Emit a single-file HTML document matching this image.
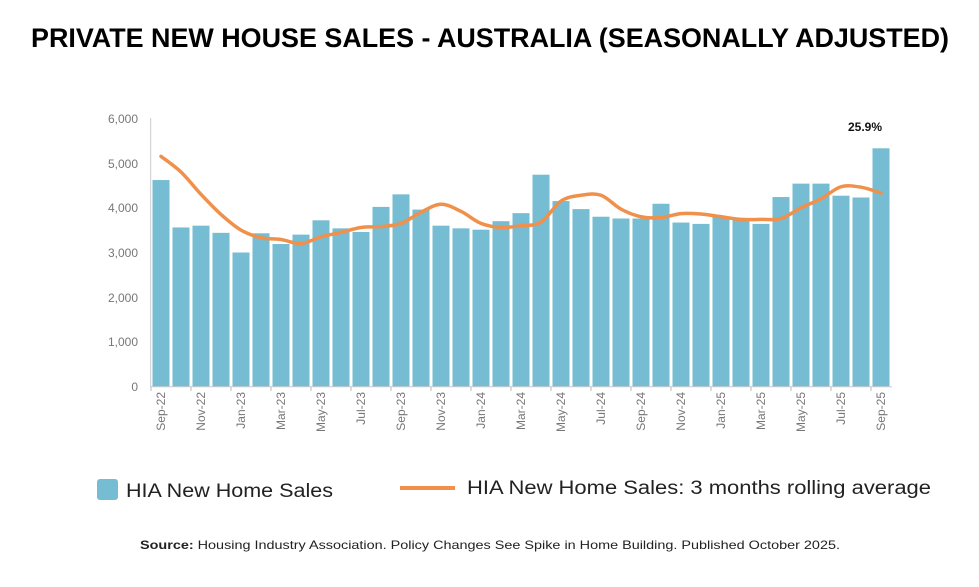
<!DOCTYPE html>
<html><head><meta charset="utf-8"><style>
body{margin:0;background:#fff;width:979px;height:582px;overflow:hidden;font-family:"Liberation Sans",sans-serif}
</style></head><body>
<svg width="979" height="582" viewBox="0 0 979 582" xmlns="http://www.w3.org/2000/svg" font-family="Liberation Sans, sans-serif">
<text x="490" y="47" text-anchor="middle" font-size="27" font-weight="bold" fill="#000" textLength="918" lengthAdjust="spacingAndGlyphs">PRIVATE NEW HOUSE SALES - AUSTRALIA (SEASONALLY ADJUSTED)</text>
<g font-size="12" fill="#777" text-anchor="end">
<text x="138" y="123">6,000</text><text x="138" y="168">5,000</text><text x="138" y="212">4,000</text>
<text x="138" y="257">3,000</text><text x="138" y="302">2,000</text><text x="138" y="346">1,000</text><text x="138" y="391">0</text>
</g>
<g id="bars" fill="#76bcd2"></g>
<line x1="150.7" y1="118" x2="150.7" y2="387" stroke="#ccc" stroke-width="1"/>
<line x1="150" y1="386.7" x2="892" y2="386.7" stroke="#ccc" stroke-width="1"/>
<g id="ticks" stroke="#bbb"></g>
<path id="ln" fill="none" stroke="#f0904a" stroke-width="3.5" stroke-linecap="round"/>
<g font-size="12" fill="#777" text-anchor="end">
<text transform="translate(165,392) rotate(-90)">Sep-22</text>
<text transform="translate(205,392) rotate(-90)">Nov-22</text>
<text transform="translate(245,392) rotate(-90)">Jan-23</text>
<text transform="translate(285,392) rotate(-90)">Mar-23</text>
<text transform="translate(325,392) rotate(-90)">May-23</text>
<text transform="translate(365,392) rotate(-90)">Jul-23</text>
<text transform="translate(405,392) rotate(-90)">Sep-23</text>
<text transform="translate(445,392) rotate(-90)">Nov-23</text>
<text transform="translate(485,392) rotate(-90)">Jan-24</text>
<text transform="translate(525,392) rotate(-90)">Mar-24</text>
<text transform="translate(565,392) rotate(-90)">May-24</text>
<text transform="translate(605,392) rotate(-90)">Jul-24</text>
<text transform="translate(645,392) rotate(-90)">Sep-24</text>
<text transform="translate(685,392) rotate(-90)">Nov-24</text>
<text transform="translate(725,392) rotate(-90)">Jan-25</text>
<text transform="translate(765,392) rotate(-90)">Mar-25</text>
<text transform="translate(805,392) rotate(-90)">May-25</text>
<text transform="translate(845,392) rotate(-90)">Jul-25</text>
<text transform="translate(885,392) rotate(-90)">Sep-25</text>
</g>
<text x="865" y="131" text-anchor="middle" font-size="12" font-weight="bold" fill="#111">25.9%</text>
<rect x="97" y="479" width="21" height="21" rx="3" fill="#76bcd2"/>
<text x="126" y="497" font-size="19" fill="#222" textLength="207" lengthAdjust="spacingAndGlyphs">HIA New Home Sales</text>
<line x1="400" y1="488" x2="455" y2="488" stroke="#f0904a" stroke-width="4"/>
<text x="467" y="494" font-size="19" fill="#222" textLength="464" lengthAdjust="spacingAndGlyphs">HIA New Home Sales: 3 months rolling average</text>
<text x="140" y="549" font-size="12" fill="#222" textLength="700" lengthAdjust="spacingAndGlyphs"><tspan font-weight="bold">Source:</tspan> Housing Industry Association. Policy Changes See Spike in Home Building. Published October 2025.</text>
</svg>
<script>
var v=[4620,3560,3600,3440,3000,3430,3190,3400,3720,3540,3460,4020,4300,3960,3600,3540,3510,3700,3880,4740,4150,3970,3800,3760,3760,4090,3670,3640,3800,3760,3640,4240,4540,4540,4270,4230,5330];
var a=[5150,4800,4300,3850,3500,3330,3290,3200,3350,3450,3560,3580,3650,3900,4080,3920,3650,3560,3600,3680,4150,4280,4280,3970,3800,3780,3870,3860,3800,3740,3740,3760,4000,4200,4470,4460,4330];
var y0=386.7,k=0.04473,s="",t="";
function Y(x){return y0-x*k}
for(var i=0;i<37;i++){var x=151+i*20;s+='<rect x="'+(x+1.5)+'" y="'+Y(v[i])+'" width="17" height="'+(v[i]*k)+'"/>';}
for(var i=0;i<=37;i+=2){var x=151+i*20;t+='<line x1="'+x+'" y1="386.7" x2="'+x+'" y2="391"/>';}
document.getElementById('bars').innerHTML=s;document.getElementById('ticks').innerHTML=t;
var P=a.map(function(q,i){return[161+i*20,Y(q)]});
var d="M"+P[0][0]+","+P[0][1];
for(var i=0;i<P.length-1;i++){var p0=P[Math.max(0,i-1)],p1=P[i],p2=P[i+1],p3=P[Math.min(P.length-1,i+2)];
d+=" C"+(p1[0]+(p2[0]-p0[0])/6)+","+(p1[1]+(p2[1]-p0[1])/6)+" "+(p2[0]-(p3[0]-p1[0])/6)+","+(p2[1]-(p3[1]-p1[1])/6)+" "+p2[0]+","+p2[1];}
document.getElementById('ln').setAttribute('d',d);
</script>
</body></html>
